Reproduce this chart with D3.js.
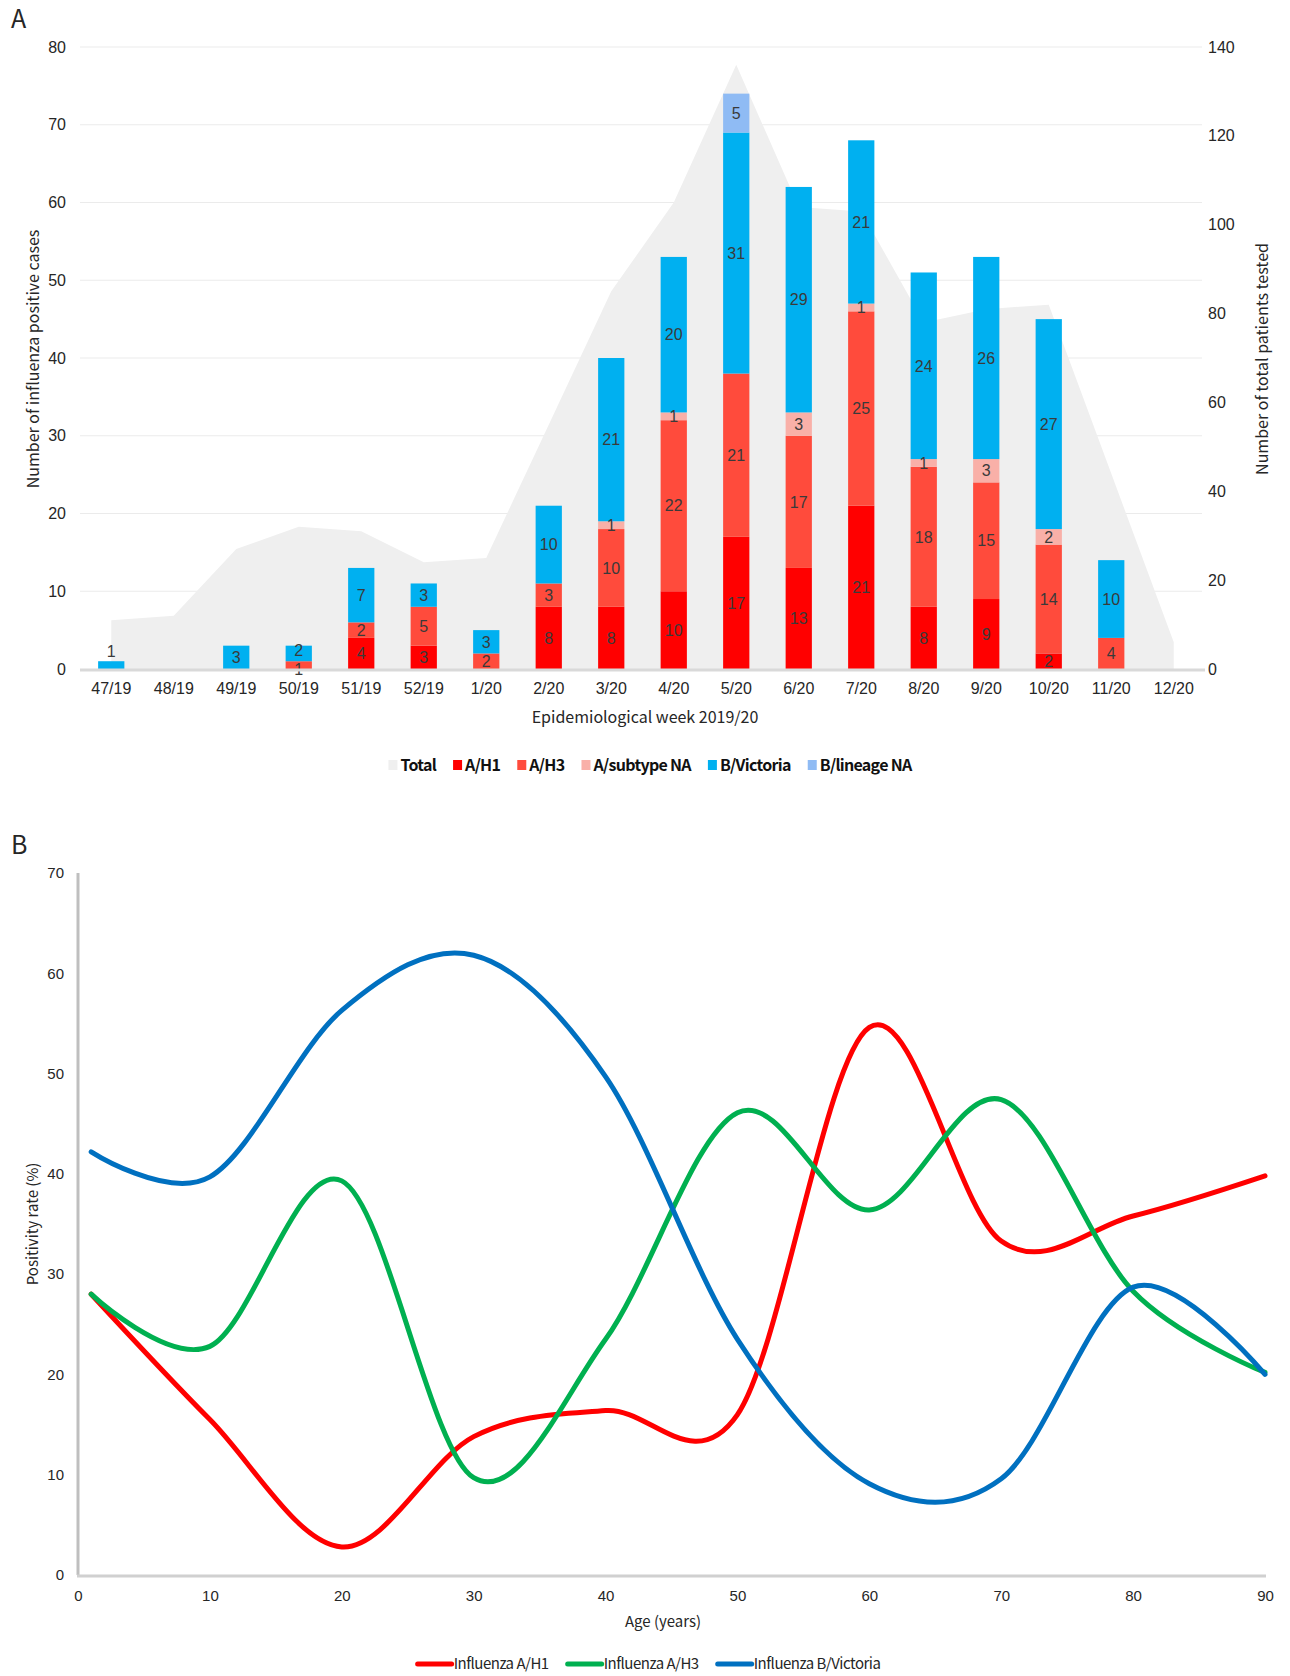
<!doctype html>
<html lang="en">

<head>
  <meta charset="utf-8">
  <title>Influenza 2019/20 - D3</title>
  <style>
    body { margin: 0; background: #fff; }
    svg { display: block; font-family: "Noto Sans CJK KR", "Noto Sans", sans-serif; }
  </style>
</head>

<body>
  <svg width="1290" height="1676"></svg>

  <script src="https://cdn.jsdelivr.net/npm/d3@7/dist/d3.min.js"></script>
  <script>
    // ---- panel A data ----
    var weeks = ['47/19', '48/19', '49/19', '50/19', '51/19', '52/19', '1/20', '2/20', '3/20',
      '4/20', '5/20', '6/20', '7/20', '8/20', '9/20', '10/20', '11/20', '12/20'];
    var totalTested = [11, 12, 27, 32, 31, 24, 25, 55, 85, 105, 136, 104, 103, 78, 81, 82, 44, 6];
    var aH1 = [0, 0, 0, 0, 4, 3, 0, 8, 8, 10, 17, 13, 21, 8, 9, 2, 0, 0];
    var aH3 = [0, 0, 0, 1, 2, 5, 2, 3, 10, 22, 21, 17, 25, 18, 15, 14, 4, 0];
    var aNA = [0, 0, 0, 0, 0, 0, 0, 0, 1, 1, 0, 3, 1, 1, 3, 2, 0, 0];
    var bVic = [1, 0, 3, 2, 7, 3, 3, 10, 21, 20, 31, 29, 21, 24, 26, 27, 10, 0];
    var bNA = [0, 0, 0, 0, 0, 0, 0, 0, 0, 0, 5, 0, 0, 0, 0, 0, 0, 0];
    var leftTicks = [0, 10, 20, 30, 40, 50, 60, 70, 80];
    var rightTicks = [0, 20, 40, 60, 80, 100, 120, 140];

    // ---- panel B data ----
    var ages = [1, 10, 20, 30, 40, 50, 60, 70, 80, 90];
    var rateH1 = [28, 15.5, 2.8, 13.8, 16.4, 16, 54.6, 33.3, 35.8, 39.8];
    var rateH3 = [28, 22.8, 39.3, 9.7, 23.5, 46.1, 36.4, 47.4, 28.3, 20.2];
    var rateBVic = [42.2, 39.7, 56.3, 61.8, 49.7, 23.5, 9.1, 9.6, 28.7, 20];
    var ageTicks = [0, 10, 20, 30, 40, 50, 60, 70, 80, 90];
    var rateTicks = [0, 10, 20, 30, 40, 50, 60, 70];

    var svg = d3.select('svg');
    var textColor = '#262626';

    // =============== A ===============
    var subtypes = ['A/H1', 'A/H3', 'A/subtype NA', 'B/Victoria', 'B/lineage NA'];
    var subColors = ['#ff0000', '#ff4b3c', '#f9b0a8', '#00b0f0', '#8fbbf4'];
    var subValues = [aH1, aH3, aNA, bVic, bNA];

    var rows = weeks.map(function (w, i) {
      var r = { week: w, total: totalTested[i] };
      subtypes.forEach(function (s, k) { r[s] = subValues[k][i]; });
      return r;
    });

    var x = d3.scaleBand().domain(weeks).range([80, 1205]).paddingInner(0.58).paddingOuter(0.29);
    var yL = d3.scaleLinear().domain([0, 80]).range([669, 47]);
    var yR = d3.scaleLinear().domain([0, 140]).range([669, 47]);
    var cx = function (w) { return x(w) + x.bandwidth() / 2; };

    svg.append('text').attr('x', 11).attr('y', 28).text('A')
      .attr('font-size', 25).attr('fill', textColor);

    // gridlines
    svg.append('g').selectAll('line').data(leftTicks.slice(1)).enter()
      .append('line')
      .attr('x1', 80).attr('x2', 1202)
      .attr('y1', v => yL(v)).attr('y2', v => yL(v))
      .attr('stroke', '#ebebeb').attr('stroke-width', 1);

    // total tested area (right axis)
    var area = d3.area()
      .x(d => cx(d.week))
      .y0(yR(0))
      .y1(d => yR(d.total));
    svg.append('path').datum(rows)
      .attr('d', area)
      .attr('fill', '#efefef');

    // stacked bars
    var stack = d3.stack().keys(subtypes);
    var layers = stack(rows);
    var gBars = svg.append('g');
    layers.forEach(function (layer, k) {
      gBars.append('g').attr('fill', subColors[k])
        .selectAll('rect').data(layer.filter(d => d[1] > d[0])).enter()
        .append('rect')
        .attr('x', d => x(d.data.week))
        .attr('width', x.bandwidth())
        .attr('y', d => yL(d[1]))
        .attr('height', d => yL(d[0]) - yL(d[1]));
    });

    // segment labels: centred, nudged apart when they collide
    var labels = [];
    weeks.forEach(function (w, i) {
      var segs = [];
      layers.forEach(function (layer) {
        var d = layer[i];
        if (d[1] > d[0]) segs.push({ week: w, v: d[1] - d[0], y: yL((d[0] + d[1]) / 2), top: yL(d[1]), h: yL(d[0]) - yL(d[1]) });
      });
      if (segs.length == 1 && segs[0].h < 10) segs[0].y = segs[0].top - 10; // lone tiny bar: label above
      for (var j = 1; j < segs.length; j++) {
        var gap = segs[j - 1].y - segs[j].y;
        if (gap < 19) {
          segs[j - 1].y += (19 - gap) / 2;
          segs[j].y -= (19 - gap) / 2;
        }
      }
      labels = labels.concat(segs);
    });
    gBars.append('g').selectAll('text').data(labels).enter()
      .append('text')
      .attr('x', d => cx(d.week))
      .attr('y', d => d.y)
      .attr('dy', '0.36em')
      .attr('text-anchor', 'middle')
      .attr('font-family', '"Liberation Sans", Arial, sans-serif')
      .attr('font-size', 16)
      .attr('fill', '#3a3a3a')
      .text(d => d.v);

    // baseline
    svg.append('line').attr('x1', 80).attr('x2', 1205)
      .attr('y1', yL(0) + 1).attr('y2', yL(0) + 1)
      .attr('stroke', '#d9d9d9').attr('stroke-width', 3);

    // axes
    var axL = svg.append('g').attr('transform', 'translate(80,0)')
      .call(d3.axisLeft(yL).tickValues(leftTicks).tickSize(0).tickPadding(14));
    var axR = svg.append('g').attr('transform', 'translate(1204,0)')
      .call(d3.axisRight(yR).tickValues(rightTicks).tickSize(0).tickPadding(4));
    var axB = svg.append('g').attr('transform', 'translate(0,' + yL(0) + ')')
      .call(d3.axisBottom(x).tickSize(0).tickPadding(14));
    [axL, axR, axB].forEach(function (a) {
      a.select('.domain').remove();
      a.selectAll('text').attr('font-size', 16).attr('fill', textColor).attr('font-family', null);
    });

    svg.append('text')
      .attr('transform', 'translate(39,' + (yL(40) + 1) + ') rotate(-90)')
      .attr('text-anchor', 'middle')
      .attr('font-size', 16).attr('fill', textColor)
      .text('Number of influenza positive cases');
    svg.append('text')
      .attr('transform', 'translate(1268,' + (yL(40) + 1) + ') rotate(-90)')
      .attr('text-anchor', 'middle')
      .attr('font-size', 16).attr('fill', textColor)
      .text('Number of total patients tested');
    svg.append('text')
      .attr('x', 645).attr('y', 723)
      .attr('text-anchor', 'middle')
      .attr('font-size', 16).attr('fill', textColor)
      .text('Epidemiological week 2019/20');

    // legend A
    var legA = svg.append('g');
    var legItems = [{ name: 'Total', color: '#efefef' }].concat(subtypes.map((s, k) => ({ name: s, color: subColors[k] })));
    var lx = 0;
    legItems.forEach(function (it) {
      var g = legA.append('g').attr('transform', 'translate(' + lx + ',0)');
      g.append('rect').attr('x', 0).attr('y', -11).attr('width', 9).attr('height', 10).attr('fill', it.color);
      var t = g.append('text').attr('x', 12).attr('y', 0)
        .attr('font-size', 16).attr('font-weight', 'bold')
        .attr('letter-spacing', '-0.7px')
        .attr('fill', '#111').text(it.name);
      lx += 12 + t.node().getComputedTextLength() + 17;
    });
    lx -= 17;
    legA.attr('transform', 'translate(' + (650 - lx / 2) + ',771)');

    // =============== B ===============
    var xB = d3.scaleLinear().domain([0, 90]).range([78, 1265]);
    var yB = d3.scaleLinear().domain([0, 70]).range([1575, 873]);

    svg.append('text').attr('x', 11).attr('y', 854).text('B')
      .attr('font-size', 25).attr('fill', textColor);

    // axis lines
    svg.append('line').attr('x1', 78).attr('x2', 78).attr('y1', yB(70)).attr('y2', yB(0))
      .attr('stroke', '#bfbfbf').attr('stroke-width', 3);
    svg.append('line').attr('x1', 77).attr('x2', 1266).attr('y1', yB(0) + 1).attr('y2', yB(0) + 1)
      .attr('stroke', '#d0d0d0').attr('stroke-width', 3);

    var axBL = svg.append('g').attr('transform', 'translate(78,0)')
      .call(d3.axisLeft(yB).tickValues(rateTicks).tickSize(0).tickPadding(14));
    var axBB = svg.append('g').attr('transform', 'translate(0,' + yB(0) + ')')
      .call(d3.axisBottom(xB).tickValues(ageTicks).tickSize(0).tickPadding(15));
    [axBL, axBB].forEach(function (a) {
      a.select('.domain').remove();
      a.selectAll('text').attr('font-size', 15).attr('fill', textColor).attr('font-family', null);
    });

    svg.append('text')
      .attr('transform', 'translate(38,' + yB(35) + ') rotate(-90)')
      .attr('text-anchor', 'middle')
      .attr('font-size', 15).attr('fill', textColor)
      .text('Positivity rate (%)');
    svg.append('text')
      .attr('x', 663).attr('y', 1627)
      .attr('text-anchor', 'middle')
      .attr('font-size', 15).attr('fill', textColor)
      .text('Age (years)');

    var series = [
      { name: 'Influenza A/H1', color: '#ff0000', values: rateH1 },
      { name: 'Influenza A/H3', color: '#00b050', values: rateH3 },
      { name: 'Influenza B/Victoria', color: '#0070c0', values: rateBVic }
    ];
    // smoothed lines, like the spreadsheet "smooth line" option
    var line = d3.line()
      .x((v, i) => xB(ages[i]))
      .y(v => yB(v))
      .curve(d3.curveCardinal.tension(0));
    svg.append('g').selectAll('path').data(series).enter()
      .append('path')
      .attr('d', s => line(s.values))
      .attr('fill', 'none')
      .attr('stroke', s => s.color)
      .attr('stroke-width', 5)
      .attr('stroke-linecap', 'round');

    // legend B
    var legB = svg.append('g');
    var bx = 0;
    series.forEach(function (s) {
      var g = legB.append('g').attr('transform', 'translate(' + bx + ',0)');
      g.append('line').attr('x1', 2).attr('x2', 36).attr('y1', -5).attr('y2', -5)
        .attr('stroke', s.color).attr('stroke-width', 5).attr('stroke-linecap', 'round');
      var t = g.append('text').attr('x', 38).attr('y', 0)
        .attr('font-size', 15).attr('letter-spacing', '-0.5px')
        .attr('fill', textColor).text(s.name);
      bx += 38 + t.node().getComputedTextLength() + 17;
    });
    bx -= 17;
    legB.attr('transform', 'translate(' + (648 - bx / 2) + ',1669)');
  </script>
</body>

</html>
